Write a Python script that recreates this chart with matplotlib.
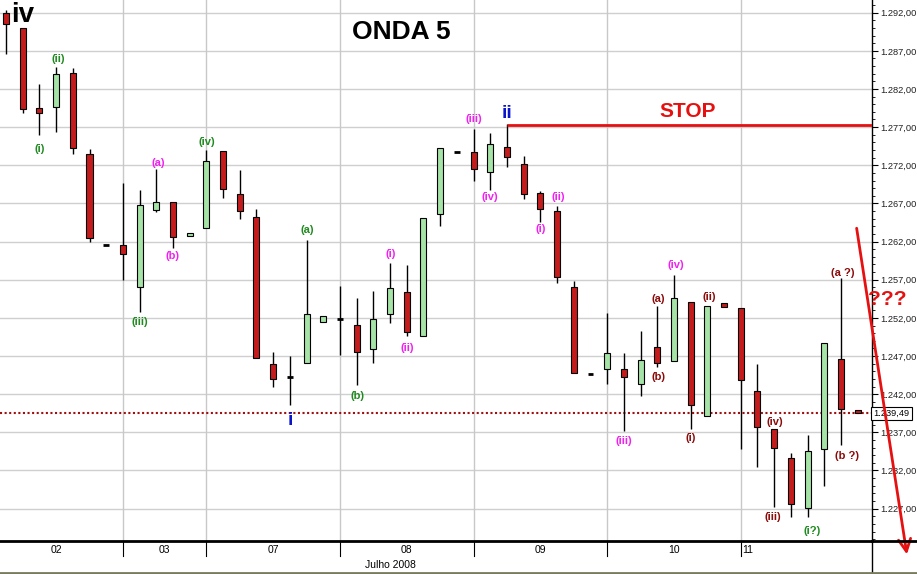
import matplotlib
matplotlib.use('Agg')
import matplotlib.pyplot as plt
from matplotlib.lines import Line2D
import numpy as np

# hourly candles, 02-11 Julho 2008 (open, high, low, close)
opens = [1292.0, 1290.0, 1279.5, 1279.7, 1284.1, 1273.5, 1261.5, 1261.5, 1256.0, 1266.15,
         1267.15, 1262.7, 1263.75, 1273.9, 1268.2, 1265.2, 1245.9, 1244.2, 1246.1, 1251.5,
         1251.85, 1251.05, 1247.9, 1252.5, 1255.35, 1249.65, 1265.6, 1273.8, 1273.75, 1271.1,
         1274.35, 1272.15, 1268.35, 1265.95, 1256.0, 1244.7, 1245.25, 1245.3, 1243.3, 1248.15,
         1246.35, 1254.05, 1239.2, 1253.9, 1253.25, 1242.4, 1237.4, 1233.6, 1227.05, 1234.85,
         1246.6, 1239.95]
highs = [1292.3, 1290.0, 1282.7, 1284.9, 1284.7, 1274.1, 1261.5, 1269.7, 1268.7, 1271.5,
         1267.2, 1263.1, 1274.0, 1273.9, 1271.4, 1266.3, 1247.5, 1247.0, 1262.2, 1252.3,
         1256.2, 1254.55, 1255.5, 1259.15, 1258.95, 1265.05, 1274.25, 1273.8, 1276.7, 1276.2,
         1277.4, 1273.2, 1268.65, 1266.65, 1256.85, 1244.7, 1252.6, 1247.35, 1250.3, 1253.55,
         1257.6, 1254.05, 1253.6, 1253.9, 1253.25, 1245.95, 1237.4, 1234.25, 1236.65, 1248.65,
         1257.2, 1239.95]
lows = [1286.6, 1278.9, 1276.0, 1276.4, 1273.5, 1261.9, 1261.5, 1256.9, 1252.8, 1265.9,
        1261.2, 1262.7, 1263.75, 1267.75, 1264.95, 1246.8, 1243.0, 1240.55, 1246.1, 1251.5,
        1247.2, 1243.2, 1246.1, 1251.3, 1249.65, 1249.65, 1264.05, 1273.8, 1270.0, 1268.75,
        1271.8, 1267.6, 1264.6, 1256.55, 1244.8, 1244.7, 1243.35, 1237.2, 1241.7, 1245.5,
        1246.35, 1237.45, 1239.2, 1253.4, 1234.85, 1232.4, 1227.25, 1225.95, 1225.85, 1229.95,
        1235.35, 1239.5]
closes = [1290.5, 1279.4, 1278.8, 1284.0, 1274.2, 1262.5, 1261.5, 1260.4, 1266.8, 1267.2,
          1262.55, 1263.1, 1272.6, 1268.85, 1266.05, 1246.8, 1243.95, 1244.2, 1252.5, 1252.3,
          1251.85, 1247.55, 1251.8, 1255.9, 1250.2, 1265.05, 1274.25, 1273.8, 1271.55, 1274.75,
          1273.05, 1268.2, 1266.25, 1257.3, 1244.8, 1244.7, 1247.35, 1244.3, 1246.5, 1246.05,
          1254.55, 1240.6, 1253.6, 1253.4, 1243.85, 1237.75, 1234.9, 1227.65, 1234.55, 1248.65,
          1240.1, 1239.5]

day_labels = ['02', '03', '07', '08', '09', '10', '11']
day_starts = [-1, 7, 12, 20, 28, 36, 44]
month_label = 'Julho 2008'

y_ticks = list(range(1227, 1293, 5))
last_price = 1239.49
stop_level = 1277.3
stop_start = 30

# wave labels: (text, candle index, price, colour)
GREEN = '#1f8a1f'
MAGENTA = '#f020f0'
DRED = '#8b0a0a'
wave_labels = [
    ('(i)', 2, 1274.1, GREEN), ('(ii)', 3.1, 1285.9, GREEN), ('(iii)', 8, 1251.4, GREEN),
    ('(iv)', 12, 1275.1, GREEN), ('(a)', 18.05, 1263.5, GREEN), ('(b)', 21.05, 1241.8, GREEN),
    ('(i?)', 48.25, 1224.1, GREEN),
    ('(a)', 9.1, 1272.3, MAGENTA), ('(b)', 10, 1260.1, MAGENTA), ('(i)', 23.05, 1260.4, MAGENTA),
    ('(ii)', 24.05, 1248.1, MAGENTA), ('(iii)', 28, 1278.0, MAGENTA), ('(iv)', 29, 1267.8, MAGENTA),
    ('(i)', 32, 1263.6, MAGENTA), ('(ii)', 33.1, 1267.9, MAGENTA), ('(iv)', 40.1, 1258.9, MAGENTA),
    ('(iii)', 37, 1235.8, MAGENTA),
    ('(a)', 39.05, 1254.5, DRED), ('(b)', 39.1, 1244.2, DRED), ('(ii)', 42.1, 1254.7, DRED),
    ('(i)', 41, 1236.3, DRED), ('(iv)', 46.05, 1238.3, DRED), ('(iii)', 45.95, 1225.9, DRED),
    ('(a ?)', 50.1, 1257.9, DRED), ('(b ?)', 50.35, 1233.95, DRED),
]

arrow_start = (50.94, 1263.75)
arrow_end = (53.95, 1221.0)

AXFONT = 'Liberation Sans'

fig = plt.figure(figsize=(9.17, 5.74), dpi=100)
ax = fig.add_axes([0, 33 / 574, 872 / 917, 541 / 574])
ax.set_xlim(-0.36, 51.86)
ax.set_ylim(1222.76, 1293.66)

# grid
for t in y_ticks:
    ax.axhline(t, color='#cfcfcf', lw=1, zorder=0)
for s in day_starts[1:]:
    ax.axvline(s, color='#c8c8c8', lw=1, zorder=0)

# candles
idx = np.arange(len(opens))
o = np.array(opens)
c = np.array(closes)
h = np.array(highs)
l = np.array(lows)
ax.vlines(idx, l, h, color='black', lw=1, zorder=2)
is_doji = np.abs(c - o) < 0.05
body = ~is_doji
colors = np.where(c >= o, '#a6e3a6', '#c41c1c')
ax.bar(idx[body], np.abs(c - o)[body], bottom=np.minimum(o, c)[body], width=0.36,
       color=colors[body], edgecolor='black', linewidth=0.8, zorder=3)
ax.hlines(o[is_doji], idx[is_doji] - 0.17, idx[is_doji] + 0.17, color='black', lw=2, zorder=3)

# stop and last price lines
ax.hlines(stop_level, stop_start, 52, color='#e61010', lw=2, zorder=4)
ax.axhline(last_price, color='#a01010', lw=1.5, ls=(0, (1, 1.2)), zorder=1)

# texts
for txt, xi, yv, col in wave_labels:
    ax.text(xi, yv, txt, color=col, fontsize=8, fontweight='bold', ha='center', va='center',
            family='Liberation Sans', zorder=5)
ax.text(0.99, 1291.7, 'iv', fontsize=20, fontweight='bold', ha='center', va='center',
        family='Liberation Sans', zorder=5)
ax.text(30, 1278.85, 'ii', fontsize=14, fontweight='bold', color='#0a14c8', ha='center',
        va='center', family='Liberation Sans', zorder=5)
ax.text(17, 1238.6, 'i', fontsize=14, fontweight='bold', color='#0a14c8', ha='center',
        va='center', family='Liberation Sans', zorder=5)
ax.text(23.7, 1289.5, 'ONDA 5', fontsize=19, fontweight='bold', ha='center', va='center',
        family='Liberation Sans', zorder=5)
ax.text(40.84, 1279.0, 'STOP', fontsize=15, fontweight='bold', color='#e61010', ha='center',
        va='center', family='Liberation Sans', zorder=5)
ax.text(52.75, 1254.35, '???', fontsize=15, fontweight='bold', color='#e61010', ha='center',
        va='center', family='Liberation Sans', zorder=6, clip_on=False)

ax.annotate('', xy=arrow_end, xytext=arrow_start, annotation_clip=False,
            arrowprops=dict(arrowstyle='->', color='#e61010', lw=2, mutation_scale=22,
                            shrinkA=0, shrinkB=0), zorder=6)

# right price axis
ax.yaxis.tick_right()
ax.set_yticks(y_ticks)
ax.set_yticklabels(['1.%d,00' % (t - 1000) for t in y_ticks], family=AXFONT,
                   fontsize=6.7, color='#222222')
ax.set_yticks(np.arange(1223, 1294, 1), minor=True)
ax.tick_params(axis='y', which='major', direction='out', length=4, pad=2)
ax.tick_params(axis='y', which='minor', direction='out', length=2)
ax.set_xticks([])
for sp in ['left', 'top']:
    ax.spines[sp].set_visible(False)
ax.spines['right'].set_linewidth(1)
ax.spines['bottom'].set_linewidth(2)

ax.text(1.002, last_price, '1.239,49', transform=ax.get_yaxis_transform(), fontsize=6.7,
        family=AXFONT, ha='left', va='center',
        bbox=dict(boxstyle='square,pad=0.25', fc='white', ec='black', lw=0.8), zorder=5)

# date axis
xt = ax.get_xaxis_transform()
day_y = -9 / 541
for i, lab in enumerate(day_labels):
    if i < len(day_labels) - 1:
        ax.text((day_starts[i] + day_starts[i + 1]) / 2, day_y, lab, transform=xt, fontsize=7.5,
                family=AXFONT, ha='center', va='center')
    else:
        ax.text(day_starts[i] + 0.1, day_y, lab, transform=xt, fontsize=7.5,
                family=AXFONT, ha='left', va='center')
for s in day_starts[1:]:
    ax.add_line(Line2D([s, s], [0, -15 / 541], transform=xt, color='black', lw=0.8, clip_on=False))
ax.text(23.0, -24 / 541, month_label, transform=xt, fontsize=7.5,
        family=AXFONT, ha='center', va='center')

# frame lines in figure pixels
W, H = 917, 574
fig.add_artist(Line2D([872 / W, 1], [(H - 541) / H] * 2, color='black', lw=2))
fig.add_artist(Line2D([872 / W] * 2, [2 / H, (H - 541) / H], color='black', lw=1))
fig.add_artist(Line2D([0, 1], [1.5 / H] * 2, color='#7a7a60', lw=2))

fig.savefig('out.png', dpi=100)
